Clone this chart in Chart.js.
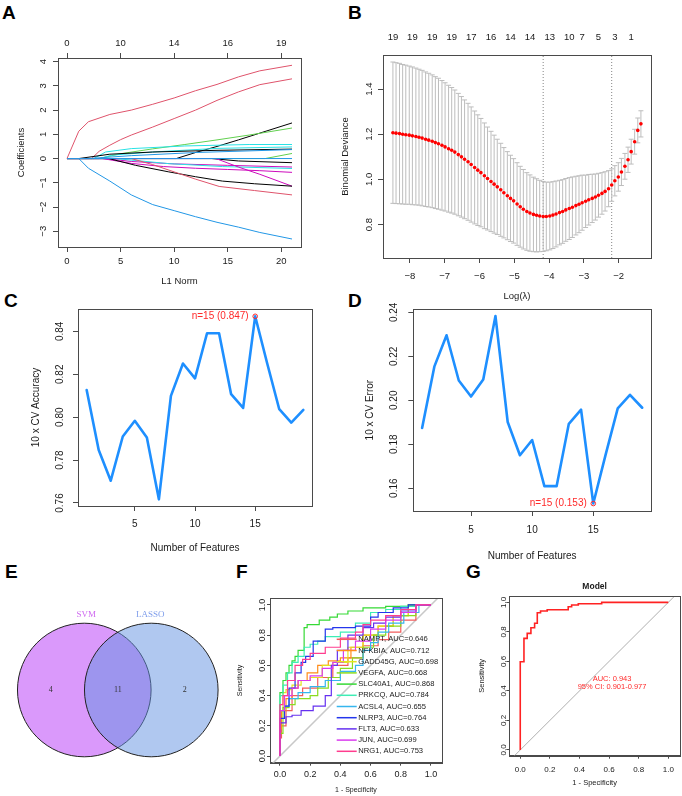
<!DOCTYPE html>
<html>
<head>
<meta charset="utf-8">
<script src="https://cdn.jsdelivr.net/npm/chart.js@4.4.1/dist/chart.umd.min.js"></script>
<style>
  body { margin: 0; background: #fff; width: 682px; height: 796px; position: relative; overflow: hidden; }
  canvas { position: absolute; }
  .tag { position: absolute; font: bold 19px/19px "Liberation Sans", Arial, sans-serif; color: #000; }
</style>
</head>
<body>
<div class="tag" style="left:2px;top:2.5px">A</div>
<div class="tag" style="left:348px;top:2.5px">B</div>
<div class="tag" style="left:4px;top:290.5px">C</div>
<div class="tag" style="left:348px;top:290.5px">D</div>
<div class="tag" style="left:5px;top:561.5px">E</div>
<div class="tag" style="left:236px;top:561.5px">F</div>
<div class="tag" style="left:466px;top:561.5px">G</div>

<canvas id="cA"></canvas>
<canvas id="cB"></canvas>
<canvas id="cC"></canvas>
<canvas id="cD"></canvas>
<canvas id="cE"></canvas>
<canvas id="cF"></canvas>
<canvas id="cG"></canvas>

<script>
// ---------- A: lasso coefficient paths ----------
const aTicks = [0, 5, 10, 15, 20];
const aTopLabels = ['0', '10', '14', '16', '19'];
const aYTicks = [-3, -2, -1, 0, 1, 2, 3, 4];
const pathL1 = [
  [0, 1.1, 2, 4, 6, 8, 10, 12, 14, 16, 18, 21],
  [0, 2.3, 3, 4, 5, 6, 8, 10, 12, 14, 16, 18, 21],
  [0, 1.1, 2, 4, 6, 8, 10, 12, 14, 16, 18, 21],
  [0, 10.2, 12, 14, 16, 18, 21],
  [0, 3, 5, 8, 11, 14, 17, 21],
  [0, 2.5, 3.6, 6, 11, 17, 21],
  [0, 3, 4.2, 8, 14, 21],
  [0, 1.1, 4, 8, 14, 21],
  [0, 2, 6, 12, 21],
  [0, 18.5, 21],
  [0, 13.5, 16, 21],
  [0, 3.5, 6, 10, 15, 21],
  [0, 4.5, 9.5, 14.5, 21],
  [0, 3.3, 6, 9, 12, 15, 18, 21],
  [0, 13.9, 16, 18, 21],
  [0, 3.9, 6.4, 9.5, 12, 14.5, 17.5, 21],
  [0, 6, 8, 10, 12, 14.2, 17.5, 21],
  [0, 21]
];
const pathCoef = [
  [0, 1.13, 1.52, 1.82, 2.0, 2.24, 2.5, 2.8, 3.06, 3.37, 3.62, 3.85],
  [0, 0, 0.3, 0.55, 0.78, 0.97, 1.3, 1.65, 2.0, 2.4, 2.75, 3.05, 3.29],
  [0, 0, -0.4, -0.93, -1.5, -1.9, -2.15, -2.4, -2.63, -2.83, -3.05, -3.32],
  [0, 0, 0.25, 0.5, 0.77, 1.05, 1.47],
  [0, 0, 0.2, 0.4, 0.58, 0.77, 0.97, 1.26],
  [0, 0, 0.27, 0.41, 0.52, 0.58, 0.58],
  [0, 0, 0.14, 0.27, 0.42, 0.48],
  [0, 0, 0.18, 0.27, 0.34, 0.39],
  [0, 0, 0.12, 0.25, 0.37],
  [0, 0, 0.21],
  [0, 0, -0.1, -0.17],
  [0, 0, -0.12, -0.22, -0.28, -0.35],
  [0, 0, -0.21, -0.33, -0.41],
  [0, 0, -0.2, -0.33, -0.4, -0.45, -0.5, -0.57],
  [0, 0, -0.35, -0.65, -1.14],
  [0, 0, -0.28, -0.55, -0.75, -0.93, -1.04, -1.14],
  [0, 0, -0.25, -0.55, -0.85, -1.15, -1.32, -1.5],
  [0, 0]
];
const pathColors = ['#DF536B', '#DF536B', '#2297E6', '#000000', '#61D04F', '#28E2E5', '#28E2E5', '#000000', '#2297E6',
  '#61D04F', '#000000', '#CD0BBC', '#28E2E5', '#CD0BBC', '#CD0BBC', '#000000', '#DF536B', '#2297E6'];

// ---------- B: cross-validated binomial deviance ----------
const logLambda = [-8.49, -8.40, -8.30, -8.21, -8.12, -8.02, -7.93, -7.83, -7.74, -7.65,
  -7.55, -7.46, -7.36, -7.27, -7.18, -7.08, -6.99, -6.89, -6.80, -6.71,
  -6.61, -6.52, -6.43, -6.33, -6.24, -6.14, -6.05, -5.96, -5.86, -5.77,
  -5.67, -5.58, -5.49, -5.39, -5.30, -5.20, -5.11, -5.02, -4.92, -4.83,
  -4.74, -4.64, -4.55, -4.45, -4.36, -4.27, -4.17, -4.08, -3.98, -3.89,
  -3.80, -3.70, -3.61, -3.52, -3.42, -3.33, -3.23, -3.14, -3.05, -2.95,
  -2.86, -2.76, -2.67, -2.58, -2.48, -2.39, -2.29, -2.20, -2.11, -2.01,
  -1.92, -1.82, -1.73, -1.64, -1.54, -1.45, -1.36];
const cvm = [1.207, 1.205, 1.203, 1.200, 1.198, 1.196, 1.193, 1.190, 1.187, 1.183,
  1.178, 1.174, 1.169, 1.163, 1.158, 1.151, 1.144, 1.136, 1.129, 1.121,
  1.110, 1.100, 1.089, 1.078, 1.066, 1.053, 1.041, 1.030, 1.016, 1.004,
  0.991, 0.979, 0.967, 0.954, 0.941, 0.928, 0.916, 0.905, 0.891, 0.879,
  0.868, 0.858, 0.851, 0.845, 0.841, 0.838, 0.836, 0.836, 0.838, 0.842,
  0.847, 0.853, 0.858, 0.865, 0.871, 0.877, 0.884, 0.890, 0.897, 0.903,
  0.910, 0.916, 0.922, 0.930, 0.938, 0.947, 0.959, 0.975, 0.994, 1.011,
  1.033, 1.058, 1.087, 1.123, 1.167, 1.217, 1.246];
const cvsd = [0.313, 0.312, 0.311, 0.309, 0.308, 0.306, 0.305, 0.303, 0.301, 0.300,
  0.298, 0.296, 0.294, 0.292, 0.290, 0.287, 0.284, 0.281, 0.278, 0.275,
  0.271, 0.267, 0.263, 0.259, 0.255, 0.250, 0.245, 0.240, 0.234, 0.228,
  0.222, 0.217, 0.211, 0.206, 0.200, 0.195, 0.191, 0.187, 0.183, 0.179,
  0.176, 0.172, 0.169, 0.165, 0.162, 0.158, 0.155, 0.152, 0.150, 0.148,
  0.146, 0.143, 0.141, 0.139, 0.137, 0.134, 0.130, 0.126, 0.122, 0.116,
  0.112, 0.107, 0.102, 0.097, 0.092, 0.087, 0.080, 0.072, 0.067, 0.063,
  0.060, 0.057, 0.056, 0.055, 0.055, 0.055, 0.058];
const lambdaMin = -4.17, lambda1se = -2.20;
const bTopPos = [-8.49, -7.93, -7.36, -6.80, -6.24, -5.67, -5.11, -4.55, -3.98, -3.42, -3.05, -2.58, -2.11, -1.64];
const bTopLabels = ['19', '19', '19', '19', '17', '16', '14', '14', '13', '10', '7', '5', '3', '1'];
const bXTicks = [-8, -7, -6, -5, -4, -3, -2];
const bYTicks = [0.8, 1.0, 1.2, 1.4];

// ---------- C / D: SVM-RFE ----------
const nFeatures = [1, 2, 3, 4, 5, 6, 7, 8, 9, 10, 11, 12, 13, 14, 15, 16, 17, 18, 19];
const cvAccuracy = [0.8126, 0.7847, 0.7704, 0.7910, 0.7983, 0.7905, 0.7617, 0.8099, 0.8250, 0.8181,
  0.8391, 0.8391, 0.8107, 0.8043, 0.8470, 0.8250, 0.8037, 0.7975, 0.8034];
const cvError = [0.1874, 0.2153, 0.2296, 0.2090, 0.2017, 0.2095, 0.2383, 0.1901, 0.1750, 0.1819,
  0.1609, 0.1609, 0.1893, 0.1957, 0.1530, 0.1750, 0.1963, 0.2025, 0.1966];
const featTicks = [5, 10, 15];
const accTicks = [0.76, 0.78, 0.80, 0.82, 0.84];
const errTicks = [0.16, 0.18, 0.20, 0.22, 0.24];

// ---------- E: Venn ----------
const vennSets = ['SVM', 'LASSO'];
const vennCounts = [4, 11, 2];   // SVM only, both, LASSO only

// ---------- F: single-gene ROC ----------
const geneNames = ['NAMPT', 'NFKBIA', 'GADD45G', 'VEGFA', 'SLC40A1', 'PRKCQ', 'ACSL4', 'NLRP3', 'FLT3', 'JUN', 'NRG1'];
const geneAUC = [0.646, 0.712, 0.698, 0.668, 0.868, 0.784, 0.655, 0.764, 0.633, 0.699, 0.753];
const geneFpr = [
  [0, 0.01, 0.04, 0.08, 0.15, 0.25, 0.35, 0.45, 0.55, 0.65, 0.72, 0.8, 0.9, 1],
  [0, 0.01, 0.04, 0.08, 0.12, 0.18, 0.25, 0.32, 0.4, 0.47, 0.55, 0.65, 0.75, 0.85, 1],
  [0, 0.02, 0.04, 0.08, 0.14, 0.2, 0.28, 0.35, 0.45, 0.55, 0.65, 0.75, 0.85, 1],
  [0, 0.02, 0.06, 0.1, 0.2, 0.25, 0.32, 0.4, 0.48, 0.55, 0.62, 0.7, 0.8, 0.9, 1],
  [0, 0, 0.02, 0.04, 0.06, 0.08, 0.1, 0.12, 0.16, 0.18, 0.26, 0.33, 0.38, 0.45, 0.55, 0.7, 0.85, 1],
  [0, 0, 0.02, 0.05, 0.08, 0.12, 0.16, 0.2, 0.25, 0.3, 0.4, 0.5, 0.6, 0.7, 0.8, 0.9, 1],
  [0, 0, 0.03, 0.06, 0.12, 0.2, 0.3, 0.4, 0.5, 0.55, 0.6, 0.65, 0.72, 0.82, 0.92, 1],
  [0, 0, 0.03, 0.06, 0.1, 0.14, 0.17, 0.22, 0.3, 0.35, 0.5, 0.6, 0.65, 0.75, 0.85, 1],
  [0, 0, 0.04, 0.08, 0.14, 0.22, 0.3, 0.34, 0.38, 0.45, 0.55, 0.62, 0.7, 0.8, 0.9, 1],
  [0, 0, 0.03, 0.08, 0.12, 0.2, 0.28, 0.35, 0.42, 0.5, 0.6, 0.7, 0.8, 0.9, 1],
  [0, 0, 0.02, 0.05, 0.1, 0.15, 0.2, 0.3, 0.4, 0.5, 0.55, 0.6, 0.7, 0.8, 0.9, 1]
];
const geneTpr = [
  [0, 0.12, 0.2, 0.3, 0.4, 0.45, 0.52, 0.6, 0.65, 0.73, 0.77, 0.82, 0.9, 1],
  [0, 0.18, 0.3, 0.38, 0.45, 0.5, 0.55, 0.6, 0.63, 0.65, 0.72, 0.8, 0.86, 0.93, 1],
  [0, 0.3, 0.42, 0.44, 0.47, 0.5, 0.52, 0.6, 0.62, 0.72, 0.8, 0.86, 0.93, 1],
  [0, 0.15, 0.32, 0.34, 0.38, 0.4, 0.45, 0.52, 0.58, 0.65, 0.72, 0.8, 0.86, 0.93, 1],
  [0, 0.38, 0.42, 0.5, 0.55, 0.6, 0.63, 0.66, 0.7, 0.85, 0.87, 0.9, 0.92, 0.94, 0.96, 0.98, 0.99, 1],
  [0, 0.27, 0.4, 0.47, 0.55, 0.62, 0.66, 0.72, 0.74, 0.76, 0.79, 0.82, 0.88, 0.95, 0.97, 0.99, 1],
  [0, 0.27, 0.3, 0.33, 0.38, 0.42, 0.46, 0.5, 0.56, 0.6, 0.7, 0.75, 0.82, 0.88, 0.95, 1],
  [0, 0.2, 0.25, 0.33, 0.45, 0.55, 0.62, 0.66, 0.76, 0.84, 0.85, 0.86, 0.92, 0.95, 0.98, 1],
  [0, 0.2, 0.22, 0.26, 0.27, 0.3, 0.33, 0.4, 0.6, 0.7, 0.8, 0.85, 0.88, 0.92, 0.96, 1],
  [0, 0.2, 0.3, 0.4, 0.45, 0.5, 0.53, 0.58, 0.62, 0.7, 0.76, 0.84, 0.9, 0.95, 1],
  [0, 0.1, 0.34, 0.4, 0.5, 0.6, 0.64, 0.68, 0.72, 0.78, 0.82, 0.87, 0.9, 0.93, 0.97, 1]
];
const geneColors = ['#F25C5C', '#FF8C1A', '#E3E320', '#8BDB1F', '#35D935', '#3EEDB5', '#36B6EE', '#2436EC', '#6530F0', '#DA3BEF', '#FF3D8E'];
const rocTicks = [0, 0.2, 0.4, 0.6, 0.8, 1.0];

// ---------- G: combined model ROC ----------
const modelFpr = [0, 0, 0.025, 0.047, 0.072, 0.097, 0.115, 0.137, 0.182, 0.324, 0.347, 0.392, 0.55, 0.82, 1];
const modelTpr = [0, 0.542, 0.598, 0.756, 0.79, 0.828, 0.858, 0.93, 0.941, 0.95, 0.97, 0.982, 0.991, 1.0, 1.0];
const modelAUC = 0.943, modelCI = [0.901, 0.977];

// ================= helpers =================
const FONT = '"Liberation Sans", Arial, sans-serif';
const AX = '#4a4a4a', TX = '#1a1a1a', RED = '#FF2A2A';
const MINUS = '\u2212';
const fmtInt = v => (v < 0 ? MINUS : '') + Math.abs(v);
const fmt1 = v => (v < 0 ? MINUS : '') + Math.abs(v).toFixed(1);
const fmt2 = v => v.toFixed(2);
Chart.defaults.font.family = FONT;
Chart.defaults.color = TX;

function place(id, cv, plot) {
  const el = document.getElementById(id);
  el.width = cv.w; el.height = cv.h;
  el.style.left = cv.x + 'px'; el.style.top = cv.y + 'px';
  el.style.width = cv.w + 'px'; el.style.height = cv.h + 'px';
  return { el, L: plot[0] - cv.x, T: plot[1] - cv.y, R: cv.x + cv.w - plot[2], B: cv.y + cv.h - plot[3] };
}

function hAxis(o) {
  return {
    type: 'linear', position: o.pos || 'bottom', min: o.min, max: o.max,
    afterBuildTicks: s => { s.ticks = o.ticks.map(v => ({ value: v })); },
    afterFit: s => { s.height = o.h; },
    grid: { drawOnChartArea: false, drawTicks: o.tl > 0, tickLength: o.tl, color: AX, lineWidth: 1 },
    border: { display: o.tl > 0, color: AX },
    ticks: { font: { size: o.fs }, color: TX, padding: o.pad, maxRotation: 0, minRotation: 0, autoSkip: false,
      callback: (v, i) => o.labels ? o.labels[i] : o.fmt(v) },
    title: o.title ? { display: true, text: o.title, font: { size: o.tfs }, color: TX, padding: { top: 0, bottom: o.tpad } } : { display: false }
  };
}

function vAxis(o) {
  return {
    type: 'linear', position: 'left', min: o.min, max: o.max,
    afterBuildTicks: s => { s.ticks = o.ticks.map(v => ({ value: v })); },
    afterFit: s => { s.width = o.w; },
    grid: { drawOnChartArea: false, drawTicks: true, tickLength: o.tl, color: AX, lineWidth: 1 },
    border: { display: true, color: AX },
    ticks: { display: false },
    title: { display: true, text: o.title, font: { size: o.tfs }, color: TX, padding: { top: o.tpad, bottom: 0 } }
  };
}

function text(ctx, s, x, y, o) {
  o = o || {};
  ctx.font = (o.bold ? 'bold ' : '') + (o.fs || 10) + 'px ' + (o.family || FONT);
  ctx.fillStyle = o.color || TX;
  ctx.textAlign = o.align || 'center';
  ctx.textBaseline = 'middle';
  ctx.fillText(s, x, y);
}

function rPlugin(o) {
  return {
    id: 'rstyle',
    afterDatasetsDraw(chart) {
      const ctx = chart.ctx, a = chart.chartArea;
      ctx.save();
      if (o.box) {
        ctx.strokeStyle = o.box; ctx.lineWidth = 1;
        ctx.strokeRect(Math.round(a.left) + 0.5, Math.round(a.top) + 0.5,
          Math.round(a.right) - Math.round(a.left), Math.round(a.bottom) - Math.round(a.top));
      }
      if (o.yl) {
        const s = chart.scales.y;
        s.ticks.forEach(t => {
          ctx.save();
          ctx.translate(a.left - o.yl.off, s.getPixelForValue(t.value));
          ctx.rotate(-Math.PI / 2);
          text(ctx, o.yl.fmt(t.value), 0, 0, { fs: o.yl.fs });
          ctx.restore();
        });
      }
      if (o.draw) o.draw(chart, ctx, a);
      ctx.restore();
    }
  };
}

function baseOptions(m, scales, padTop) {
  return {
    responsive: false, maintainAspectRatio: false, animation: false, events: [],
    layout: { autoPadding: false, padding: { left: 0, right: m.R, top: padTop, bottom: 0 } },
    scales,
    plugins: { legend: { display: false }, tooltip: { enabled: false } }
  };
}

const pts = (xs, ys) => xs.map((x, i) => ({ x, y: ys[i] }));

// ================= A =================
(function () {
  const m = place('cA', { x: 0, y: 28, w: 330, h: 268 }, [58, 58, 301, 247]);
  const datasets = pathL1.map((l1, i) => ({
    data: pts(l1, pathCoef[i]), showLine: true, borderColor: pathColors[i], borderWidth: 1,
    pointRadius: 0, order: -i
  }));
  new Chart(m.el, {
    type: 'scatter',
    data: { datasets },
    options: baseOptions(m, {
      x: hAxis({ min: -0.84, max: 21.84, ticks: aTicks, fmt: fmtInt, h: m.B, tl: 5, fs: 9.5, pad: 4, title: 'L1 Norm', tfs: 9.5, tpad: 8.6 }),
      xTop: hAxis({ pos: 'top', min: -0.84, max: 21.84, ticks: aTicks, labels: aTopLabels, h: m.T, tl: 5, fs: 9.5, pad: 4 }),
      y: vAxis({ min: -3.65, max: 4.15, ticks: aYTicks, w: m.L, tl: 5, title: 'Coefficients', tfs: 9.5, tpad: 16 })
    }, 0),
    plugins: [rPlugin({ box: AX, yl: { off: 14.7, fs: 9.5, fmt: fmtInt } })]
  });
})();

// ================= B =================
(function () {
  const m = place('cB', { x: 335, y: 22, w: 347, h: 280 }, [383, 55, 651, 258]);
  const yMin = 0.652, yMax = 1.551;
  const bars = [], caps = [];
  logLambda.forEach((x, i) => {
    bars.push({ x, y: cvm[i] - cvsd[i] }, { x, y: cvm[i] + cvsd[i] }, { x, y: null });
    caps.push({ x, y: cvm[i] - cvsd[i] }, { x, y: cvm[i] + cvsd[i] });
  });
  const vline = x => ({
    data: [{ x, y: yMin }, { x, y: yMax }], showLine: true, borderColor: '#666', borderWidth: 0.8,
    borderDash: [1, 2], pointRadius: 0, order: 3
  });
  new Chart(m.el, {
    type: 'scatter',
    data: {
      datasets: [
        { data: pts(logLambda, cvm), pointRadius: 1.8, backgroundColor: '#FF0000', borderWidth: 0, order: 0 },
        { data: caps, pointStyle: 'line', pointRadius: 2.5, borderColor: '#BDBDBD', borderWidth: 1, order: 1 },
        { data: bars, showLine: true, borderColor: '#BDBDBD', borderWidth: 1, pointRadius: 0, order: 2 },
        vline(lambdaMin), vline(lambda1se)
      ]
    },
    options: baseOptions(m, {
      x: hAxis({ min: -8.775, max: -1.07, ticks: bXTicks, fmt: fmtInt, h: m.B, tl: 5, fs: 9.5, pad: 8, title: 'Log(\u03BB)', tfs: 9.5, tpad: 0 }),
      xTop: hAxis({ pos: 'top', min: -8.775, max: -1.07, ticks: bTopPos, labels: bTopLabels, h: m.T, tl: 0, fs: 9.5, pad: 11.6 }),
      y: vAxis({ min: yMin, max: yMax, ticks: bYTicks, w: m.L, tl: 5, title: 'Binomial Deviance', tfs: 9.5, tpad: 4.3 })
    }, 0),
    plugins: [rPlugin({ box: AX, yl: { off: 13.7, fs: 9.5, fmt: fmt1 } })]
  });
})();

// ================= C & D =================
function rfePanel(id, cv, plot, vals, best, yr, yTicks, yTitle, o) {
  const m = place(id, cv, plot);
  const bi = vals.indexOf(best);
  const label = 'n=' + nFeatures[bi] + ' (' + best.toFixed(3) + ')';
  new Chart(m.el, {
    type: 'scatter',
    data: {
      datasets: [
        { data: [{ x: nFeatures[bi], y: best }], pointRadius: 2.3, borderColor: RED, backgroundColor: 'rgba(0,0,0,0)', borderWidth: 1, order: 0 },
        { data: pts(nFeatures, vals), showLine: true, borderColor: '#1E8FFF', borderWidth: 2.6, pointRadius: 0,
          borderJoinStyle: 'round', borderCapStyle: 'round', order: 1 }
      ]
    },
    options: baseOptions(m, {
      x: hAxis({ min: 0.28, max: 19.72, ticks: featTicks, fmt: v => String(v), h: m.B, tl: 5, fs: 10, pad: o.xpad, title: 'Number of Features', tfs: 10, tpad: o.xtpad }),
      y: vAxis({ min: yr[0], max: yr[1], ticks: yTicks, w: m.L, tl: 5, title: yTitle, tfs: 10, tpad: o.ytpad })
    }, m.T),
    plugins: [rPlugin({
      box: AX, yl: { off: o.yoff, fs: 10, fmt: fmt2 },
      draw(chart, ctx) {
        const x = chart.scales.x.getPixelForValue(nFeatures[bi]);
        const y = chart.scales.y.getPixelForValue(best);
        text(ctx, label, x - 6.5, y, { fs: 10, color: RED, align: 'right' });
      }
    })]
  });
}
rfePanel('cC', { x: 0, y: 300, w: 330, h: 262 }, [78, 309, 312, 506], cvAccuracy, Math.max(...cvAccuracy),
  [0.7586, 0.8504], accTicks, '10 x CV Accuracy', { xpad: 7, xtpad: 7.7, ytpad: 30, yoff: 18 });
rfePanel('cD', { x: 341, y: 300, w: 341, h: 264 }, [413.3, 309.3, 651, 511], cvError, Math.min(...cvError),
  [0.1496, 0.2414], errTicks, '10 x CV Error', { xpad: 8, xtpad: 2, ytpad: 23.3, yoff: 19 });

// ================= E =================
(function () {
  const m = place('cE', { x: 0, y: 590, w: 230, h: 200 }, [0, 590, 230, 790]);
  const fills = ['rgba(181,51,247,0.5)', 'rgba(97,145,225,0.5)'];
  const labelCols = ['#CF6AF0', '#7E9DEB'];
  new Chart(m.el, {
    type: 'scatter',
    data: {
      datasets: vennSets.map((s, i) => ({
        data: [{ x: i, y: 0 }], pointRadius: 66.8, backgroundColor: fills[i], borderColor: '#222',
        borderWidth: 1, order: 1 - i, clip: false
      }))
    },
    options: baseOptions({ R: 0 }, {
      x: { type: 'linear', display: false, min: -1.258, max: 2.175 },
      y: { type: 'linear', display: false, min: -1, max: 1 }
    }, 0),
    plugins: [rPlugin({
      draw(chart, ctx) {
        const sx = chart.scales.x, sy = chart.scales.y;
        vennSets.forEach((s, i) => text(ctx, s, sx.getPixelForValue(i) + (i ? -1 : 2), sy.getPixelForValue(0.75),
          { fs: 9, color: labelCols[i], family: '"Liberation Serif", serif' }));
        vennCounts.forEach((c, i) => text(ctx, String(c), sx.getPixelForValue(i - 0.5), sy.getPixelForValue(0),
          { fs: 8, color: '#333', family: '"Liberation Serif", serif' }));
      }
    })]
  });
})();

// ================= F =================
(function () {
  const m = place('cF', { x: 225, y: 590, w: 225, h: 206 }, [270, 598.3, 441.7, 762.7]);
  const xr = [-0.066, 1.071], yr = [-0.044, 1.044];
  const datasets = geneNames.map((g, i) => ({
    data: pts(geneFpr[i], geneTpr[i]), showLine: true, stepped: 'after', borderColor: geneColors[i],
    borderWidth: 1.2, pointRadius: 0, order: -i
  }));
  datasets.push({ data: [{ x: xr[0], y: xr[0] }, { x: xr[1], y: xr[1] }], showLine: true, borderColor: '#C8C8C8',
    borderWidth: 1.5, pointRadius: 0, order: 100 });
  new Chart(m.el, {
    type: 'scatter',
    data: { datasets },
    options: baseOptions(m, {
      x: hAxis({ min: xr[0], max: xr[1], ticks: rocTicks, fmt: fmt1, h: m.B, tl: 3, fs: 9, pad: 3.5, title: '1 - Specificity', tfs: 7, tpad: 1.8 }),
      y: vAxis({ min: yr[0], max: yr[1], ticks: rocTicks, w: m.L, tl: 3, title: 'Sensitivity', tfs: 7, tpad: 10.8 })
    }, m.T),
    plugins: [rPlugin({
      box: AX, yl: { off: 7.5, fs: 9, fmt: fmt1 },
      draw(chart, ctx, a) {
        geneNames.forEach((g, i) => {
          const y = a.top + 41 + i * 11.2;
          ctx.strokeStyle = geneColors[i]; ctx.lineWidth = 1.5;
          ctx.beginPath(); ctx.moveTo(a.right - 105, y); ctx.lineTo(a.right - 85, y); ctx.stroke();
          text(ctx, g + ', AUC=' + geneAUC[i].toFixed(3), a.right - 83.4, y, { fs: 7.6, align: 'left' });
        });
      }
    })]
  });
})();

// ================= G =================
(function () {
  const m = place('cG', { x: 450, y: 578, w: 232, h: 218 }, [509.3, 596, 680, 755.7]);
  const xr = [-0.074, 1.079], yr = [-0.039, 1.043];
  new Chart(m.el, {
    type: 'scatter',
    data: {
      datasets: [
        { data: pts(modelFpr, modelTpr), showLine: true, stepped: 'after', borderColor: '#FF2222', borderWidth: 1.6, pointRadius: 0, order: 0 },
        { data: [{ x: xr[0], y: xr[0] }, { x: xr[1], y: xr[1] }], showLine: true, borderColor: '#9A9A9A', borderWidth: 0.8, pointRadius: 0, order: 1 }
      ]
    },
    options: baseOptions(m, {
      x: hAxis({ min: xr[0], max: xr[1], ticks: rocTicks, fmt: fmt1, h: m.B, tl: 3, fs: 8, pad: 6.5, title: '1 - Specificity', tfs: 7.5, tpad: 8.2 }),
      y: vAxis({ min: yr[0], max: yr[1], ticks: rocTicks, w: m.L, tl: 3, title: 'Sensitivity', tfs: 7.5, tpad: 27.2 })
    }, m.T),
    plugins: [rPlugin({
      box: AX, yl: { off: 6, fs: 8, fmt: fmt1 },
      draw(chart, ctx, a) {
        const sx = chart.scales.x, sy = chart.scales.y;
        text(ctx, 'Model', (a.left + a.right) / 2, a.top - 9.3, { fs: 8.5, bold: true });
        text(ctx, 'AUC: ' + modelAUC.toFixed(3), sx.getPixelForValue(0.62), sy.getPixelForValue(0.483), { fs: 7.5, color: RED });
        text(ctx, '95% CI: ' + modelCI[0].toFixed(3) + '-' + modelCI[1].toFixed(3), sx.getPixelForValue(0.62), sy.getPixelForValue(0.425), { fs: 7.5, color: RED });
      }
    })]
  });
})();
</script>
</body>
</html>
